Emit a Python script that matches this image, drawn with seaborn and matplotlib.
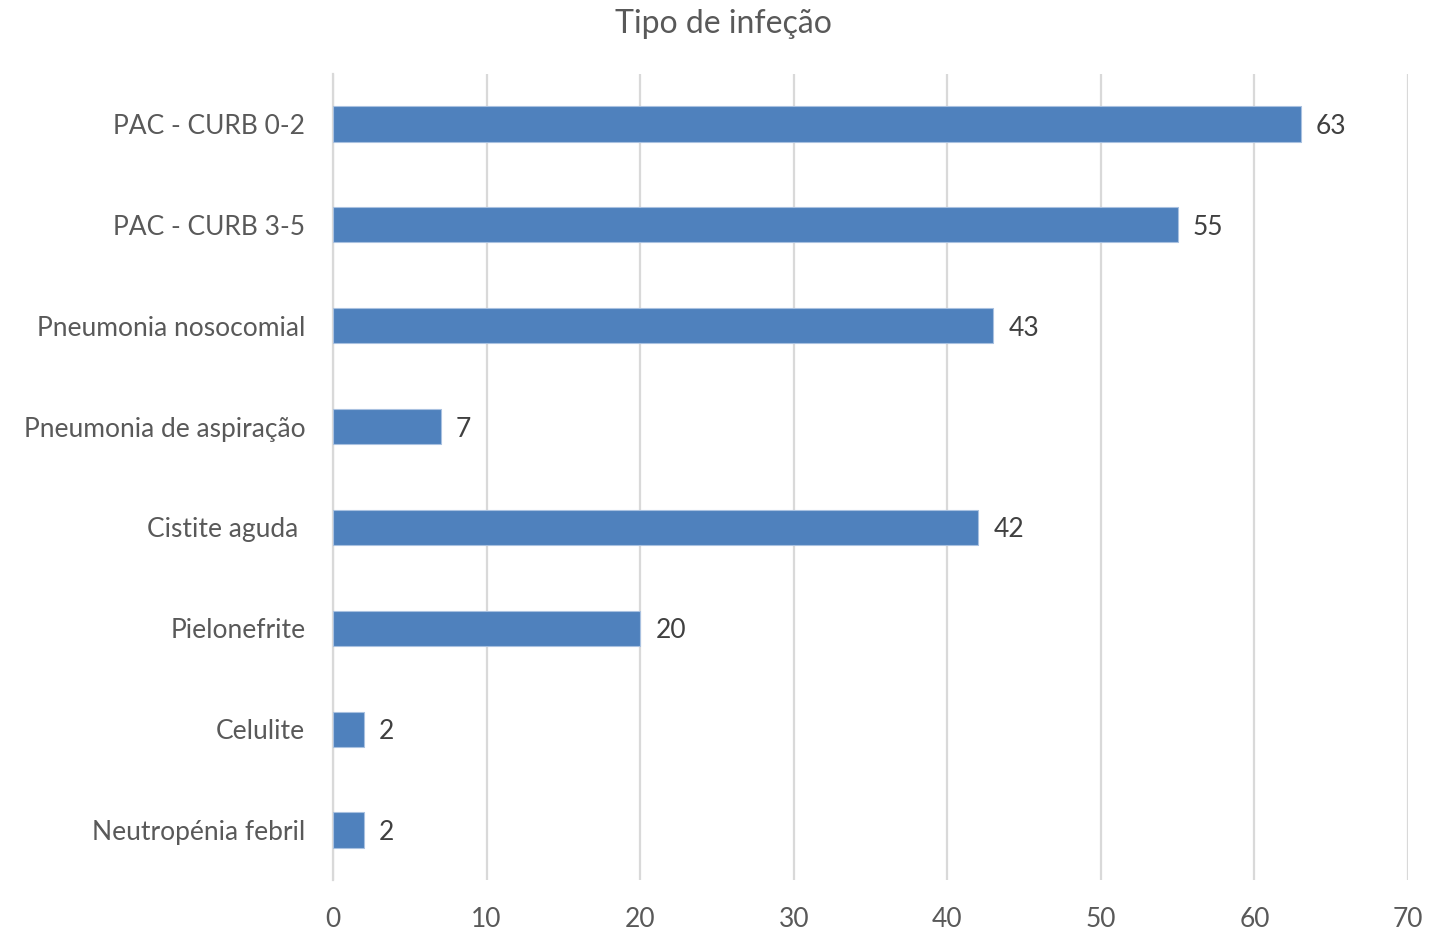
import matplotlib
matplotlib.use("Agg")
import matplotlib.pyplot as plt
import seaborn as sns
import pandas as pd

categories = [
    "PAC - CURB 0-2",
    "PAC - CURB 3-5",
    "Pneumonia nosocomial",
    "Pneumonia de aspiração",
    "Cistite aguda ",
    "Pielonefrite",
    "Celulite",
    "Neutropénia febril",
]
counts = [63, 55, 43, 7, 42, 20, 2, 2]
x_ticks = [0, 10, 20, 30, 40, 50, 60, 70]
title = "Tipo de infeção"

sns.set_theme(style="white")
plt.rcParams["font.family"] = ["Lato", "DejaVu Sans"]

df = pd.DataFrame({"tipo": categories, "n": counts})

fig = plt.figure(figsize=(14.33, 9.32), dpi=100)
ax = fig.add_axes([0.2324, 0.0553, 0.7502, 0.8658])

sns.barplot(data=df, x="n", y="tipo", order=categories, color="#4F81BD",
            saturation=1, width=0.35, edgecolor="#A9C1E0", linewidth=0.8,
            ax=ax, zorder=3)

ax.set_xlim(0, 70)
ax.set_ylim(len(categories) - 0.5, -0.5)
ax.set_xticks(x_ticks)
ax.set_xticklabels([str(t) for t in x_ticks])
ax.xaxis.grid(True, color="#D9D9D9", linewidth=1.6, zorder=0)
ax.yaxis.grid(False)
for side in ["top", "right", "bottom"]:
    ax.spines[side].set_visible(False)
ax.spines["left"].set_color("#D9D9D9")
ax.spines["left"].set_linewidth(1.6)
ax.set_xlabel("")
ax.set_ylabel("")
ax.tick_params(axis="both", length=0, labelsize=19, labelcolor="#595959")
ax.tick_params(axis="y", pad=20)
ax.tick_params(axis="x", pad=19)

for container in ax.containers:
    labels = ax.bar_label(container, fmt="%d", padding=11, fontsize=19,
                          color="#404040")
    for t in labels:
        t.set_va("center_baseline")

fig.suptitle(title, x=0.5045, y=0.99, va="top", fontsize=23, color="#595959")

fig.savefig("out.png", dpi=100, facecolor="white")
